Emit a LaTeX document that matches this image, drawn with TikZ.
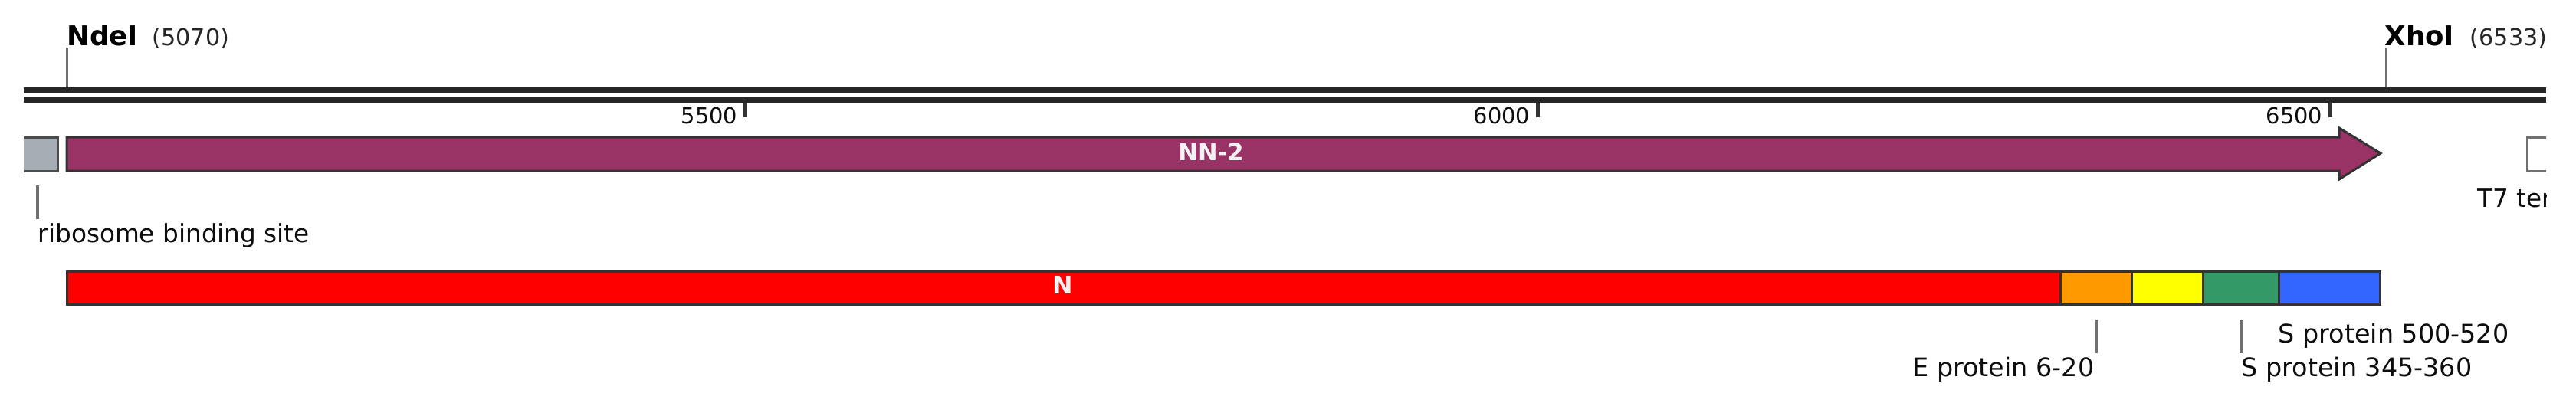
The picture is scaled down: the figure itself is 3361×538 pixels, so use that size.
\documentclass[tikz,border=0pt]{standalone}
\usepackage{fontspec}
\setmainfont{DejaVu Sans}
\definecolor{backbone}{HTML}{262626}
\definecolor{edgedark}{HTML}{333333}
\definecolor{leadgray}{HTML}{707070}
\definecolor{rbsgray}{HTML}{A7ADB4}
\definecolor{nnmaroon}{HTML}{993366}
\definecolor{eporange}{HTML}{FF9900}
\definecolor{epyellow}{HTML}{FFFF00}
\definecolor{epgreen}{HTML}{339966}
\definecolor{epblue}{HTML}{3366FF}
\tikzset{
    lbl/.style={inner sep=0pt,anchor=base west,font=\fontsize{9.3}{11}\selectfont,text=black!95},
    protlbl/.style={lbl,font=\fontsize{9.5}{11}\selectfont},
    sitelbl/.style={lbl,font=\fontsize{10.1}{11}\selectfont\bfseries,text=black},
    poslbl/.style={lbl,font=\fontsize{8.6}{11}\selectfont,text=black!85},
    ticklbl/.style={lbl,anchor=base east,font=\fontsize{8.2}{11}\selectfont},
    barlbl/.style={inner sep=0pt,anchor=base,text=white!95!black},
    lead/.style={draw=leadgray,line width=0.03cm},
    maj/.style={draw=edgedark,line width=0.05cm},
    seg/.style={draw=edgedark,line width=0.03cm}
}
\begin{document}
\begin{tikzpicture}[x=0.01cm,y=-0.01cm]
    \useasboundingbox (0,0) rectangle (3361,538);
    % backbone
    \fill [backbone] (31,114) rectangle (3322,122);
    \fill [backbone] (31,126) rectangle (3322,134);
    % sites
    \node [sitelbl] (nde) at (87,59) {NdeI};
    \node [poslbl] (ndepos) at (198,59) {(5070)};
    \node [sitelbl] (xho) at (3111,59) {XhoI};
    \node [poslbl] (xhopos) at (3222,59) {(6533)};
    \coordinate (ndetop) at (87,62);
    \coordinate (ndebot) at (87,114);
    \coordinate (xhotop) at (3113,62);
    \coordinate (xhobot) at (3113,114);
    \draw [lead] (ndetop)--(ndebot);
    \draw [lead] (xhotop)--(xhobot);
    % scale
    \foreach \pos/\name/\val in {972/a/5500,2006/b/6000,3040/c/6500}{
        \coordinate (tick\name) at (\pos,134);
        \coordinate (tickend\name) at (\pos,153);
        \draw [maj] (tick\name)--(tickend\name);
        \node [ticklbl] (num\name) at (\pos-9,161) {\val};
    }
    % features
    \fill [rbsgray] (31,179) rectangle (75,223);
    \draw [draw=black!70,line width=0.03cm] (31,179)--(75,179)--(75,223)--(31,223);
    \draw [seg,fill=nnmaroon,miter limit=10] (87,179)--(3052,179)--(3052,167)--(3106,200)--(3052,234)--(3052,223)--(87,223)--cycle;
    \node [barlbl,font=\fontsize{8.7}{11}\selectfont\bfseries] (nn) at (1580,209) {NN-2};
    \begin{scope}
        \clip (0,0) rectangle (3322,538);
        \draw [draw=leadgray,line width=0.03cm] (3340,179)--(3297,179)--(3297,223)--(3340,223);
        \node [lbl] (t7) at (3232,270) {T7 ter};
    \end{scope}
    % lower bar
    \foreach \xa/\xb/\col in {87/2688/red,2688/2781/eporange,2781/2874/epyellow,2874/2973/epgreen,2973/3105/epblue}{
        \draw [seg,fill=\col] (\xa,354.5) rectangle (\xb,397.5);
    }
    \node [barlbl,font=\fontsize{9}{11}\selectfont\bfseries] (nlbl) at (1387,383) {N};
    % labels under the features
    \coordinate (rbstop) at (49,242);
    \coordinate (rbsbot) at (49,286);
    \coordinate (etop) at (2735,417);
    \coordinate (ebot) at (2735,461);
    \coordinate (stop) at (2924,417);
    \coordinate (sbot) at (2924,461);
    \draw [lead] (rbstop)--(rbsbot);
    \draw [lead] (etop)--(ebot);
    \draw [lead] (stop)--(sbot);
    \node [lbl] (rbs) at (49,316) {ribosome binding site};
    \node [protlbl,anchor=base east] (eprot) at (2733,491) {E protein 6-20};
    \node [protlbl] (sprota) at (2924,491) {S protein 345-360};
    \node [protlbl] (sprotb) at (2972,447) {S protein 500-520};
\end{tikzpicture}
\end{document}
